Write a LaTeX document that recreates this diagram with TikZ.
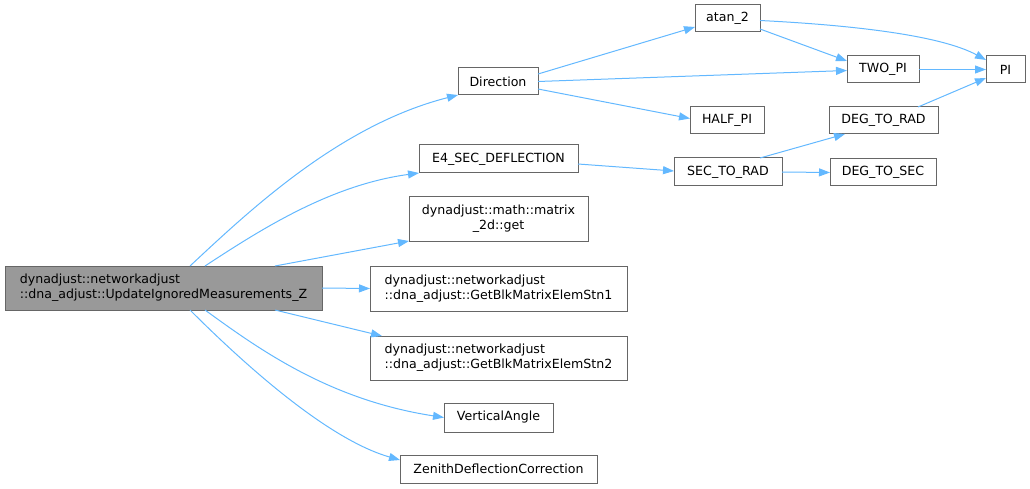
\documentclass[tikz,border=0pt]{standalone}
\usepackage{fontspec}
\setmainfont{DejaVu Sans}
\usetikzlibrary{arrows.meta,calc}
\definecolor{edgec}{HTML}{63B8FF}
\definecolor{boxc}{HTML}{666666}
\definecolor{mainfill}{HTML}{999999}
\tikzset{
  fn/.style={draw=boxc, line width=1pt, fill=white, inner sep=0pt, outer sep=0pt, font=\fontsize{12.6}{15}\selectfont, text=black},
  mainfn/.style={fn, fill=mainfill},
  edge/.style={draw=edgec, line width=1pt, -{Triangle[length=11pt,width=8pt]}},
}
\begin{document}
\begin{tikzpicture}[x=1pt,y=-1pt]
\useasboundingbox (0,0) rectangle (1030,489);
\node[mainfn, minimum width=317, minimum height=44, align=left] (main) at (163.5,288) {dynadjust::networkadjust\\::dna\_adjust::UpdateIgnoredMeasurements\_Z};
\node[fn, minimum width=80, minimum height=27] (dir) at (498,81.5) {Direction};
\node[fn, minimum width=65, minimum height=27] (atan) at (727.5,18.5) {atan\_2};
\node[fn, minimum width=74, minimum height=27] (half) at (727,120.5) {HALF\_PI};
\node[fn, minimum width=72, minimum height=27] (two) at (883,69.5) {TWO\_PI};
\node[fn, minimum width=39, minimum height=27] (pi) at (1005.5,69.5) {PI};
\node[fn, minimum width=109, minimum height=27] (d2r) at (883.5,120.5) {DEG\_TO\_RAD};
\node[fn, minimum width=106, minimum height=27] (d2s) at (883,172.5) {DEG\_TO\_SEC};
\node[fn, minimum width=108, minimum height=28] (s2r) at (728,172) {SEC\_TO\_RAD};
\node[fn, minimum width=159, minimum height=28] (e4) at (498.5,159) {E4\_SEC\_DEFLECTION};
\node[fn, minimum width=179, minimum height=44, align=center] (get) at (498.5,219) {dynadjust::math::matrix\\\_2d::get};
\node[fn, minimum width=257, minimum height=45, align=left] (stn1) at (498.5,288.5) {dynadjust::networkadjust\\::dna\_adjust::GetBlkMatrixElemStn1};
\node[fn, minimum width=257, minimum height=44, align=left] (stn2) at (498.5,358) {dynadjust::networkadjust\\::dna\_adjust::GetBlkMatrixElemStn2};
\node[fn, minimum width=109, minimum height=29] (vert) at (498.5,417.5) {VerticalAngle};
\node[fn, minimum width=197, minimum height=28] (zen) at (498.5,469) {ZenithDeflectionCorrection};

% main edges
\draw[edge] ($(main.north west)+(185,0)$) .. controls (250,210) and (340,125) .. (dir.south west);
\draw[edge] ($(main.north west)+(200,0)$) .. controls (260,230) and (330,185) .. (e4.south west);
\draw[edge] ($(main.north west)+(270,0)$) -- (get.south west);
\draw[edge] (main.east) -- (stn1.west);
\draw[edge] ($(main.south west)+(270,0)$) -- ($(stn2.north west)+(12,0)$);
\draw[edge] ($(main.south west)+(200,0)$) .. controls (260,350) and (330,400) .. (vert.west);
\draw[edge] ($(main.south west)+(185,0)$) .. controls (250,370) and (330,440) .. ($(zen.north west)+(0,5)$);
% others
\draw[edge] ($(dir.north east)+(0,6)$) -- ($(atan.south west)+(0,-5)$);
\draw[edge] (dir.east) -- ($(two.west)+(0,1)$);
\draw[edge] ($(dir.south east)+(0,-6)$) -- ($(half.west)+(0,-2)$);
\draw[edge] ($(atan.south east)+(0,-3)$) -- ($(two.north west)+(0,5)$);
\draw[edge] ($(atan.east)+(0,2)$) .. controls (850,25) and (940,35) .. ($(pi.north west)+(0,4)$);
\draw[edge] (two.east) -- (pi.west);
\draw[edge] ($(d2r.north east)+(-20,0)$) -- ($(pi.south west)+(0,-5)$);
\draw[edge] ($(e4.east)+(0,5)$) -- ($(s2r.west)+(0,-1)$);
\draw[edge] ($(s2r.north east)+(-22,0)$) -- ($(d2r.south west)+(16,0)$);
\draw[edge] (s2r.east) -- (d2s.west);
\end{tikzpicture}
\end{document}
